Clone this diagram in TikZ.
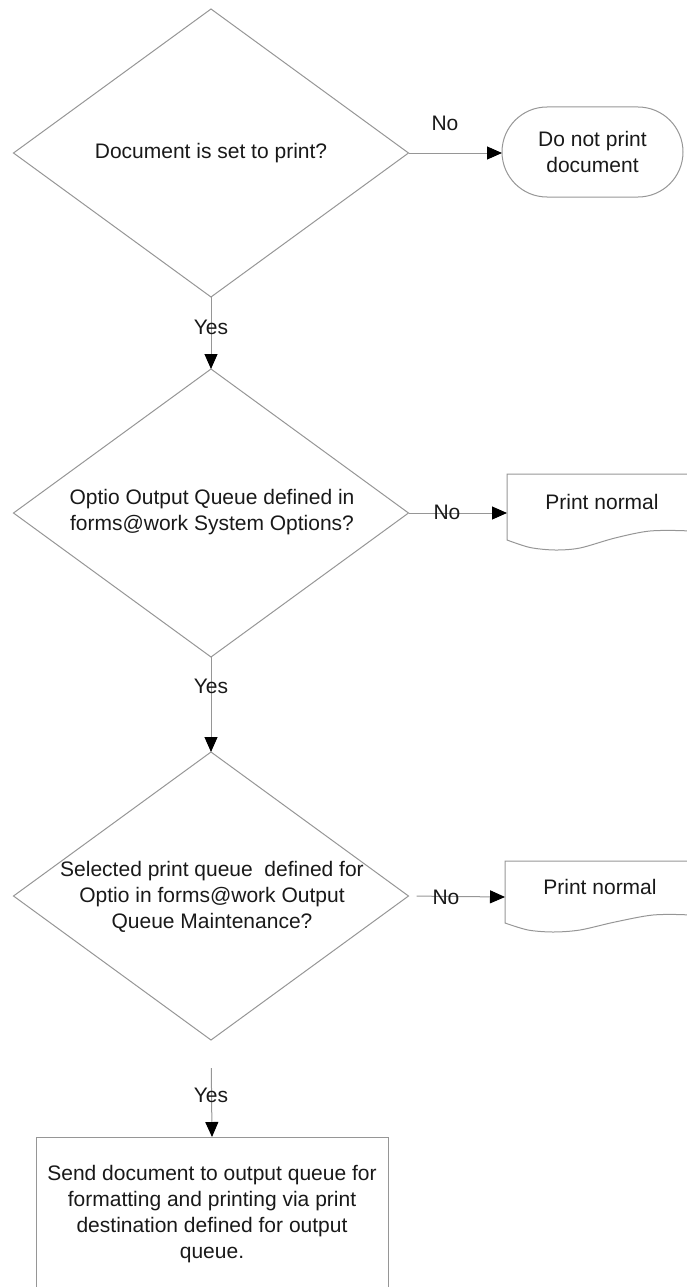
\documentclass[tikz,border=0pt]{standalone}
\usepackage{fontspec}
\setmainfont{Liberation Sans}
\usetikzlibrary{shapes.geometric,arrows.meta}
\definecolor{linegray}{RGB}{150,150,150}
\definecolor{txtcol}{RGB}{25,25,25}
\begin{document}
\begin{tikzpicture}[x=1pt,y=-1pt,
  shapeline/.style={draw=linegray, line width=1pt},
  dia/.style={diamond, shapeline, minimum width=395pt, minimum height=288pt, inner sep=0pt, outer sep=0pt},
  txt/.style={font=\fontsize{21}{26}\selectfont, text=txtcol, align=center, inner sep=0pt},
  term/.style={shapeline, rectangle, rounded corners=45pt, minimum width=181pt, minimum height=90pt, outer sep=0pt, txt},
  boxst/.style={shapeline, rectangle, minimum width=352pt, minimum height=200pt, outer sep=0pt},
  conn/.style={draw=linegray, line width=1pt, -{Triangle[length=15pt,width=13pt,color=black]}}]
\useasboundingbox (0,0) rectangle (687,1287);
\clip (0,0) rectangle (687,1287);

% decisions
\node[dia] (d1) at (211,153) {};
\node[txt] (t1) at (211,153) {Document is set to print?};
\node[dia] (d2) at (211,513) {};
\node[txt] (t2) at (212,512) {Optio Output Queue defined in\\forms@work System Options?};
\node[dia] (d3) at (211,896) {};
\node[txt] (t3) at (212,897) {Selected print queue~ defined for\\Optio in forms@work Output\\Queue Maintenance?};

% terminal
\node[term] (term) at (592.5,152) {Do not print\\document};

% documents
\draw[shapeline] (720,474) -- (507,474) -- (507,540)
  -- plot[smooth] coordinates {(507,540) (530,547.5) (555,550) (580,548) (615,538) (650,531) (690,531) (720,535)};
\coordinate (doc1w) at (507,513);
\node[txt] (p1) at (602,502) {Print normal};

\draw[shapeline] (720,861) -- (505,861) -- (505,923)
  -- plot[smooth] coordinates {(505,923) (528,930) (553,932) (580,930) (615,922) (653,915) (690,915) (720,919)};
\coordinate (doc2w) at (505,897);
\node[txt] (p2) at (600,887) {Print normal};

% final process
\node[boxst, anchor=north] (box) at (212,1137) {};
\node[txt] (t4) at (212,1214.5) {Send document to output queue for\\formatting and printing via print\\destination defined for output\\queue.};

% connectors
\draw[conn] (d1.east) -- (d1.east -| term.west);
\node[txt] (no1) at (445,123) {No};
\draw[conn] (d1.south) -- (d2.north);
\node[txt] (yes1) at (211,327) {Yes};
\draw[conn] (d2.east) -- (doc1w);
\node[txt] (no2) at (447,512) {No};
\draw[conn] (d2.south) -- (d3.north);
\node[txt] (yes2) at (211,686) {Yes};
\draw[conn, shorten <=8pt] (d3.east) -- (doc2w);
\node[txt] (no3) at (446,897) {No};
\draw[conn, shorten <=28pt] (d3.south) -- (box.north);
\node[txt] (yes3) at (211,1095) {Yes};
\end{tikzpicture}
\end{document}
